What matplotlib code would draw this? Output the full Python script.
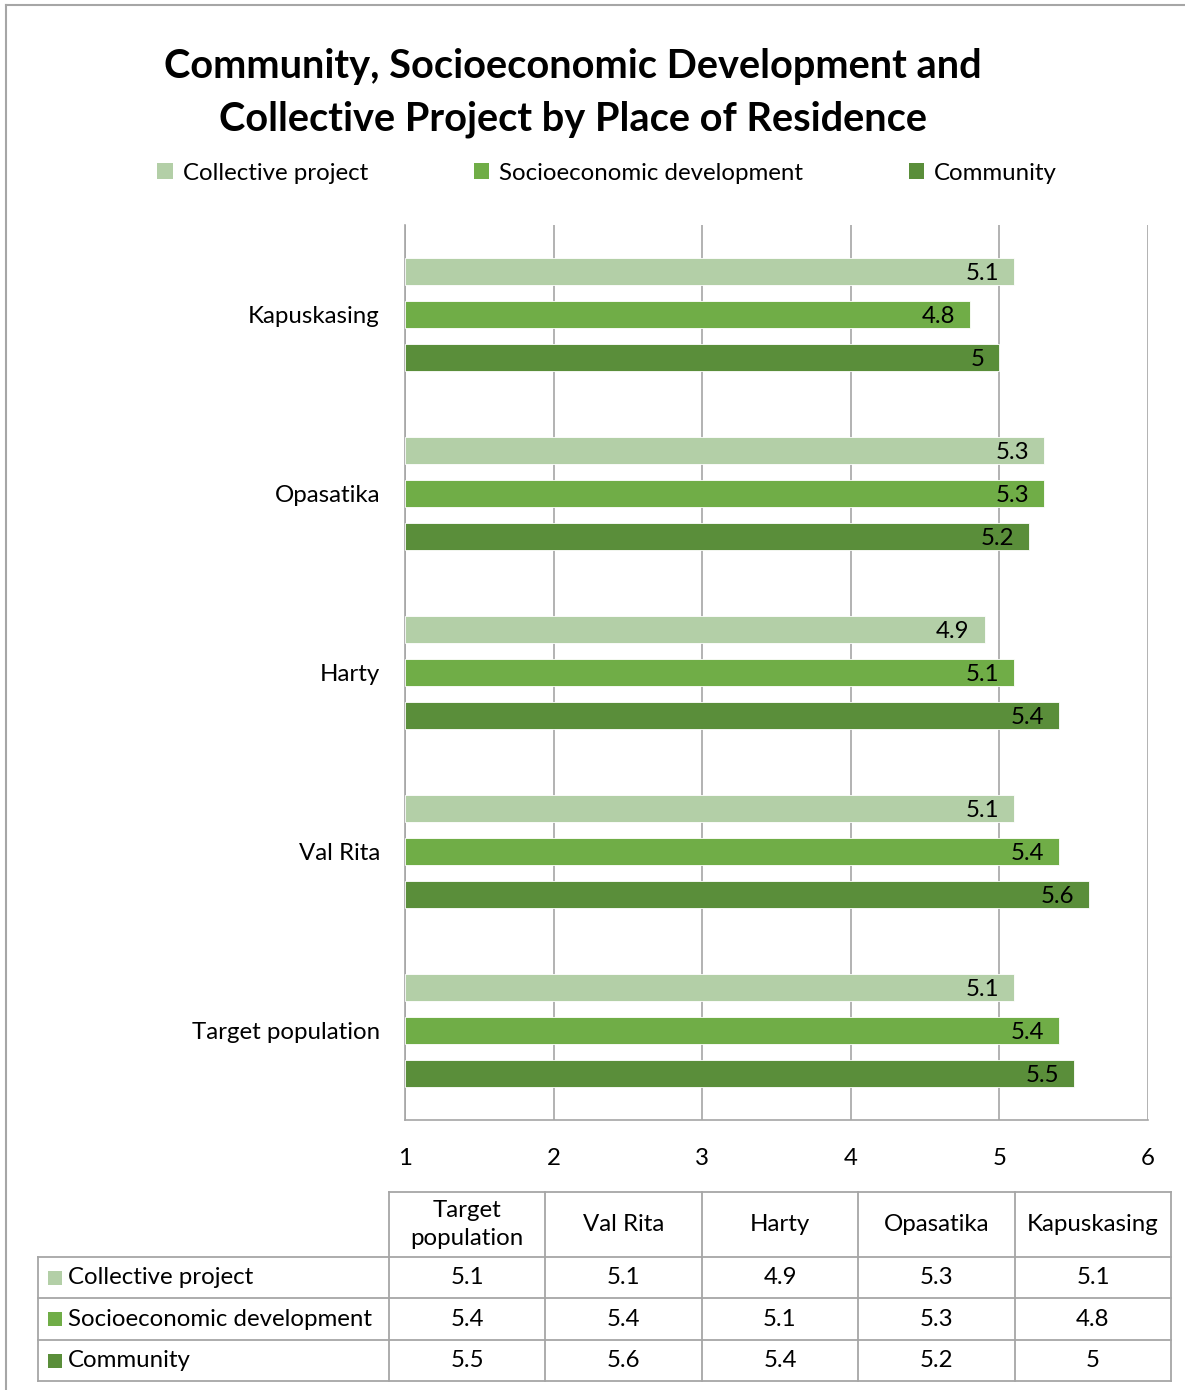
import matplotlib
matplotlib.use("Agg")
import matplotlib.pyplot as plt
from matplotlib.patches import Patch, Rectangle
from matplotlib.lines import Line2D

plt.rcParams['font.family'] = ['Lato', 'DejaVu Sans']

# ---- data ----
categories = ["Target population", "Val Rita", "Harty", "Opasatika", "Kapuskasing"]
series_names = ["Collective project", "Socioeconomic development", "Community"]
collective = [5.1, 5.1, 4.9, 5.3, 5.1]
socioeconomic = [5.4, 5.4, 5.1, 5.3, 4.8]
community = [5.5, 5.6, 5.4, 5.2, 5.0]
series_values = [collective, socioeconomic, community]
colors = ["#B3CFA7", "#70AD47", "#5A8E3A"]
xticks = [1, 2, 3, 4, 5, 6]
title = "Community, Socioeconomic Development and\nCollective Project by Place of Residence"

FS = 17.3

W, H = 1185, 1390
fig = plt.figure(figsize=(W / 100, H / 100), dpi=100)

def fx(px):
    return px / W

def fy(py):
    return 1 - py / H

# outer border (top and left only visible)
fig.add_artist(Line2D([fx(6), fx(W + 5)], [fy(5), fy(5)], color="#A6A6A6", lw=1.5))
fig.add_artist(Line2D([fx(6), fx(6)], [fy(5), fy(H + 5)], color="#A6A6A6", lw=1.5))

# ---- main axes ----
ax = fig.add_axes([fx(405), fy(1120), fx(1148) - fx(405), fy(225) - fy(1120)])
order = list(range(len(categories)))[::-1]
offsets = [-0.24, 0.0, 0.24]
bar_h = 0.155
for s, (vals, col, off) in enumerate(zip(series_values, colors, offsets)):
    for pos, ci in enumerate(order):
        v = vals[ci]
        ax.barh(pos + off, v - 1, left=1, height=bar_h, color=col,
                edgecolor="white", linewidth=0.6, zorder=3)
        ax.text(v - 0.1, pos + off, f"{v:g}", ha="right", va="center_baseline",
                fontsize=FS, color="black", zorder=4)

ax.set_xlim(1, 6)
ax.set_ylim(len(categories) - 0.5, -0.5)
ax.set_xticks(xticks)
ax.set_xticklabels([str(t) for t in xticks], fontsize=FS)
ax.set_yticks(range(len(categories)))
ax.set_yticklabels([categories[ci] for ci in order], fontsize=FS)
ax.tick_params(axis="both", length=0)
ax.tick_params(axis="x", pad=20)
ax.tick_params(axis="y", pad=18)
ax.grid(axis="x", color="#A6A6A6", lw=1.2, zorder=0)
for sp in ["top", "right"]:
    ax.spines[sp].set_visible(False)
for sp in ["left", "bottom"]:
    ax.spines[sp].set_color("#A6A6A6")
    ax.spines[sp].set_linewidth(1.2)

# ---- title ----
fig.text(fx(573), fy(93), title, ha="center", va="center", fontsize=28.6,
         fontweight="bold", linespacing=1.5)

# ---- legend ----
handles = [Patch(facecolor=c, edgecolor="none") for c in colors]
fig.legend(handles, series_names, loc="center", bbox_to_anchor=(fx(607), fy(173)),
           ncol=3, frameon=False, fontsize=FS, handlelength=0.65, handleheight=0.65,
           handletextpad=0.4, columnspacing=4.4)

# ---- data table ----
tax = fig.add_axes([0, 0, 1, 1])
tax.set_xlim(0, W)
tax.set_ylim(H, 0)
tax.axis("off")
col_edges = [389, 545, 702, 858, 1015, 1171]
row_edges = [1192, 1257, 1298, 1340, 1381]
lab_left = 38
gc = "#A6A6A6"
lw = 1.3
tax.plot([col_edges[0], col_edges[-1]], [row_edges[0], row_edges[0]], color=gc, lw=lw)
for r in row_edges[1:]:
    tax.plot([lab_left, col_edges[-1]], [r, r], color=gc, lw=lw)
for c in col_edges:
    tax.plot([c, c], [row_edges[0], row_edges[-1]], color=gc, lw=lw)
tax.plot([lab_left, lab_left], [row_edges[1], row_edges[-1]], color=gc, lw=lw)

header_labels = ["Target\npopulation", "Val Rita", "Harty", "Opasatika", "Kapuskasing"]
for j, lab in enumerate(header_labels):
    cx = (col_edges[j] + col_edges[j + 1]) / 2
    cy = (row_edges[0] + row_edges[1]) / 2
    tax.text(cx, cy, lab, ha="center", va="center", fontsize=FS, linespacing=1.45)

for i, (name, vals, col) in enumerate(zip(series_names, series_values, colors)):
    cy = (row_edges[i + 1] + row_edges[i + 2]) / 2
    tax.add_patch(Rectangle((48, cy - 7), 14, 14, facecolor=col, edgecolor="none"))
    tax.text(68, cy, name, ha="left", va="center", fontsize=FS)
    for j, v in enumerate(vals):
        cx = (col_edges[j] + col_edges[j + 1]) / 2
        tax.text(cx, cy, f"{v:g}", ha="center", va="center", fontsize=FS)

fig.savefig("out.png", dpi=100)
